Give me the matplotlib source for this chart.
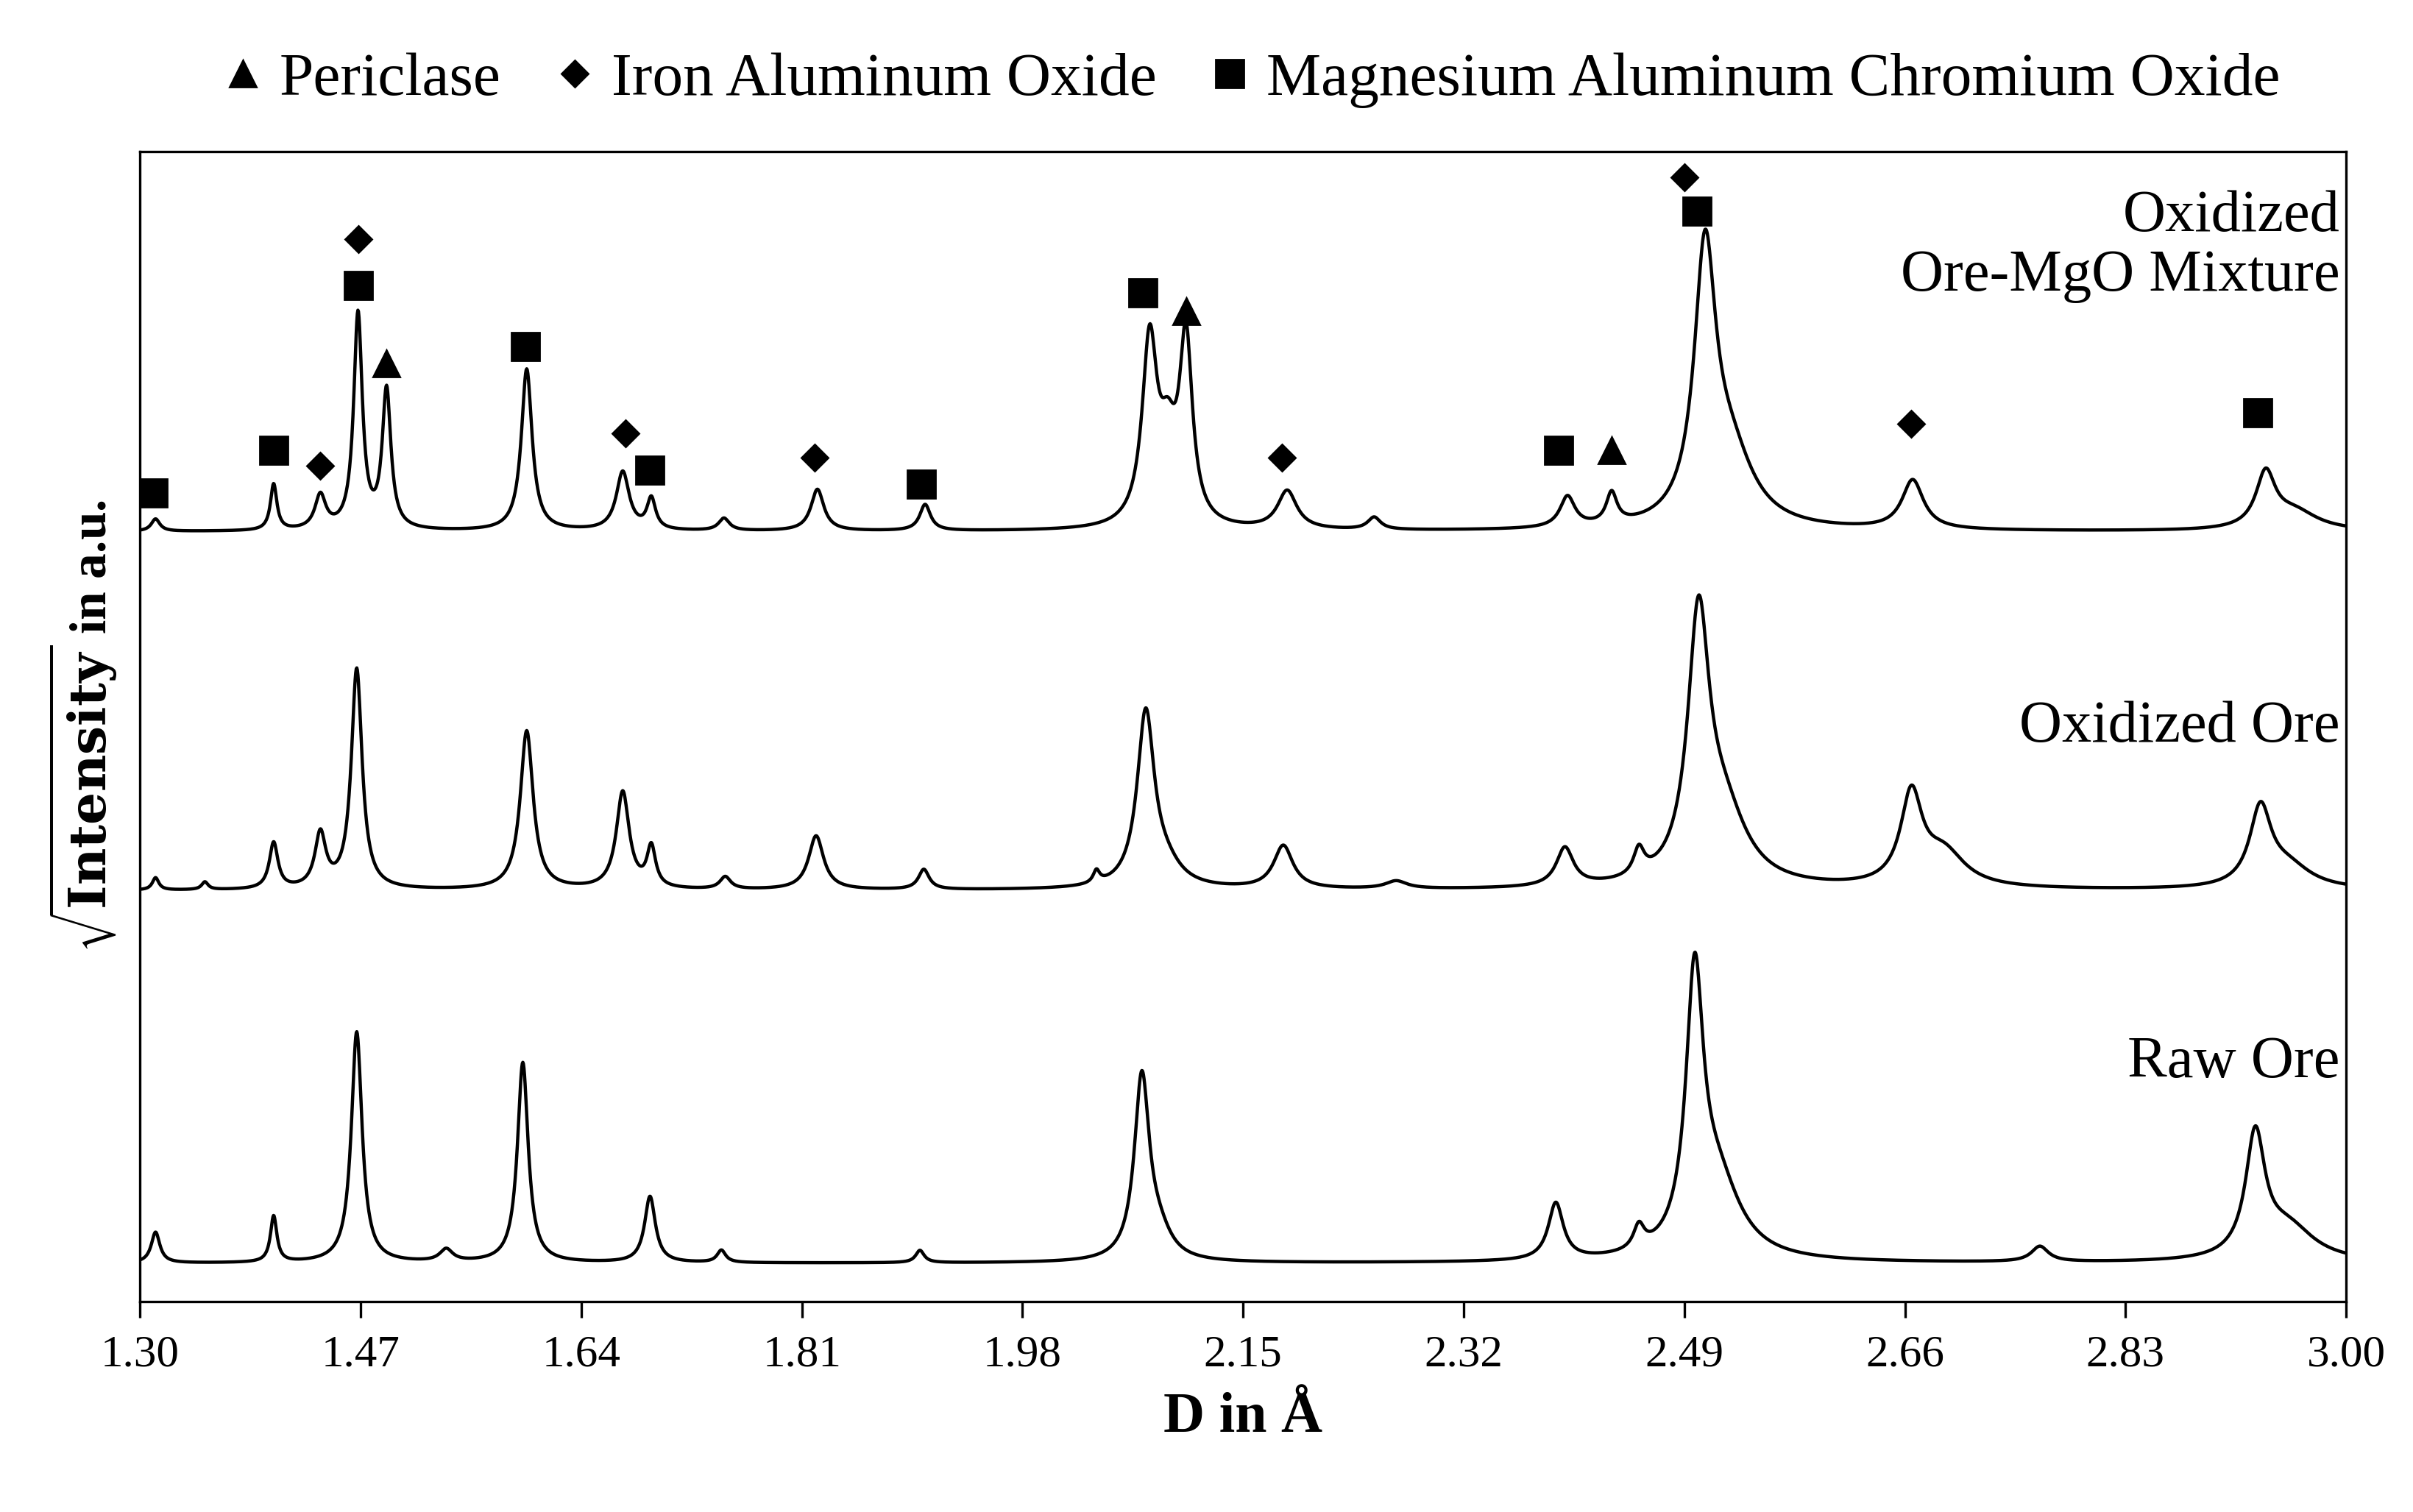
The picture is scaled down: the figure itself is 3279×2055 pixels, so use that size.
import numpy as np
import matplotlib.pyplot as plt

plt.rcParams['font.family'] = ['Liberation Serif', 'DejaVu Serif']
plt.rcParams['mathtext.fontset'] = 'dejavuserif'

# Peak lists: (position in Å, height, half-width)
raw_base = 25
raw_peaks = [(1.312, 20, .004), (1.403, 30, .003), (1.467, 150, .005), (1.536, 8, .006),
             (1.595, 130, .005), (1.693, 43, .005), (1.748, 8, .004), (1.901, 8, .004),
             (2.072, 118, .007), (2.085, 15, .012), (2.391, 37, .007), (2.455, 15, .005),
             (2.498, 170, .008), (2.515, 50, .022), (2.764, 10, .008),
             (2.93, 78, .009), (2.955, 22, .025)]
ox_base = 267
ox_peaks = [(1.312, 8, .003), (1.35, 5, .003), (1.403, 30, .004), (1.439, 35, .005),
            (1.467, 143, .005), (1.598, 103, .006), (1.672, 63, .006), (1.694, 26, .004),
            (1.751, 8, .005), (1.821, 35, .007), (1.904, 13, .005), (2.037, 8, .003),
            (2.075, 112, .008), (2.09, 12, .015), (2.181, 28, .009), (2.268, 5, .01),
            (2.398, 25, .008), (2.455, 17, .005), (2.501, 165, .01), (2.52, 45, .022),
            (2.665, 58, .01), (2.69, 22, .02), (2.934, 50, .01), (2.955, 14, .022)]
mix_base = 500
mix_peaks = [(1.312, 8, .004), (1.403, 30, .003), (1.439, 22, .005), (1.468, 140, .004),
             (1.490, 90, .004), (1.598, 105, .005), (1.672, 38, .006), (1.694, 20, .004),
             (1.75, 8, .005), (1.822, 27, .006), (1.905, 17, .005), (2.078, 118, .007),
             (2.092, 45, .008), (2.106, 118, .006), (2.184, 25, .009), (2.251, 8, .006),
             (2.40, 20, .007), (2.434, 20, .005), (2.506, 170, .01), (2.525, 45, .022),
             (2.666, 32, .01), (2.938, 35, .009), (2.96, 12, .022)]

tri_x = [1.49, 2.106, 2.434];  tri_y = [609, 643, 553]
dia_x = [1.468, 1.439, 1.674, 1.82, 2.18, 2.49, 2.665]
dia_y = [690, 543, 564, 548, 548, 730, 570]
sq_x = [1.31, 1.403, 1.468, 1.597, 1.693, 1.902, 2.073, 2.393, 2.50, 2.932]
sq_y = [525, 553, 660, 620, 540, 531, 655, 553, 708, 577]

labels = [("Oxidized\nOre-MgO Mixture", 685), ("Oxidized Ore", 373), ("Raw Ore", 155)]
xticks = [1.30, 1.47, 1.64, 1.81, 1.98, 2.15, 2.32, 2.49, 2.66, 2.83, 3.00]

x = np.linspace(1.30, 3.00, 4000)
def curve(base, peaks):
    y = np.full_like(x, base, dtype=float)
    for c, h, w in peaks:
        y += h / (1 + ((x - c) / w) ** 2)
    return y

fig = plt.figure(figsize=(16.4, 10.275), dpi=200)
ax = fig.add_axes([0.058, 0.139, 0.914, 0.761])
for b, p in [(raw_base, raw_peaks), (ox_base, ox_peaks), (mix_base, mix_peaks)]:
    ax.plot(x, curve(b, p), color='black', lw=1.6)
ax.plot(tri_x, tri_y, '^', color='black', ms=13, ls='none', label='Periclase')
ax.plot(dia_x, dia_y, 'D', color='black', ms=9, ls='none', label='Iron Aluminum Oxide')
ax.plot(sq_x, sq_y, 's', color='black', ms=14, ls='none', label='Magnesium Aluminum Chromium Oxide')
for t, yy in labels:
    ax.text(2.995, yy, t, ha='right', va='center', fontsize=29, linespacing=1.15)
ax.set_xlim(1.30, 3.00)
ax.set_ylim(0, 747)
ax.set_yticks([])
ax.set_xticks(xticks)
ax.set_xticklabels([f"{v:.2f}" for v in xticks], fontsize=22)
ax.tick_params(axis='x', direction='out', length=8, width=1.2, pad=8)
for s in ax.spines.values():
    s.set_linewidth(1.2)
ax.set_xlabel("D in Å", fontsize=28, fontweight='bold', labelpad=8)
ax.set_ylabel(r"$\mathbf{\sqrt{Intensity}}$ in a.u.", fontsize=25, fontweight='bold', labelpad=10)
ax.legend(loc='lower center', bbox_to_anchor=(0.5, 1.0), ncol=3, frameon=False,
          fontsize=30, handletextpad=0.0, columnspacing=0.6, borderaxespad=0.3,
          handlelength=1.2)
fig.savefig('out.png', dpi=200)
